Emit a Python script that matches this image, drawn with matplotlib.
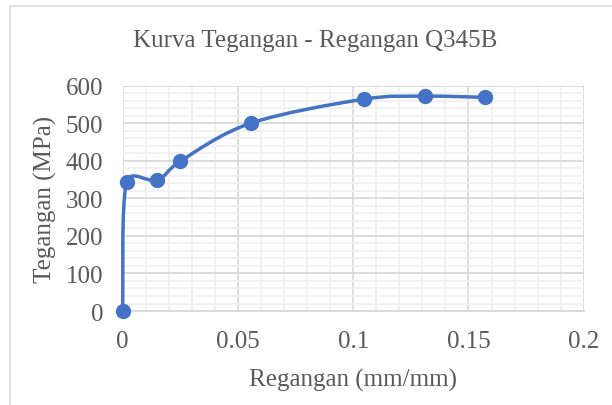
import matplotlib
import numpy as np

matplotlib.use("Agg")
import matplotlib.pyplot as plt
from matplotlib.path import Path
from matplotlib.patches import PathPatch, Rectangle
from matplotlib.ticker import MultipleLocator

# stress-strain test points, Q345B
regangan = [0.0, 0.0017, 0.015, 0.025, 0.0555, 0.1045, 0.131, 0.157]
tegangan = [0.0, 343, 348, 399, 500, 564, 572, 569]

BLUE = "#4472C4"
TEXT = "#595959"
plt.rcParams["font.family"] = ["Liberation Serif", "DejaVu Serif"]


def smooth_path(xs, ys, sx, sy):
    # bezier through the points, tangents limited like Excel's smoothed line;
    # distances measured in screen units (sx, sy = pixels per data unit)
    pts = np.column_stack([xs, ys]) * [sx, sy]
    n = len(pts)
    verts = [pts[0]]
    codes = [Path.MOVETO]

    def factor(a, b, seg):
        d = np.hypot(*(b - a))
        if d == 0 or d / 6.0 < seg / 2.0:
            return 1.0 / 6.0
        return seg / (2.0 * d)

    for i in range(n - 1):
        p0 = pts[max(i - 1, 0)]
        p1 = pts[i]
        p2 = pts[i + 1]
        p3 = pts[min(i + 2, n - 1)]
        seg = np.hypot(*(p2 - p1))
        c1 = p1 + factor(p0, p2, seg) * (p2 - p0)
        c2 = p2 - factor(p1, p3, seg) * (p3 - p1)
        verts += [c1, c2, p2]
        codes += [Path.CURVE4] * 3
    verts = np.array(verts) / [sx, sy]
    return Path(verts, codes)


fig = plt.figure(figsize=(6.12, 4.06), dpi=100)
ax = fig.add_axes([0.2005, 0.2315, 0.7533, 0.555])

# outer chart frame
fig.patches.append(Rectangle((10 / 612, -0.1), 1.2, 1 - 7 / 406 + 0.1,
                             transform=fig.transFigure, fill=False,
                             edgecolor="#D9D9D9", lw=1.2))

ax.set_xlim(0, 0.2)
ax.set_ylim(0, 600)
ax.xaxis.set_major_locator(MultipleLocator(0.05))
ax.xaxis.set_minor_locator(MultipleLocator(0.01))
ax.yaxis.set_major_locator(MultipleLocator(100))
ax.yaxis.set_minor_locator(MultipleLocator(20))
ax.grid(which="minor", color="#F0F0F0", lw=1.3)
ax.grid(which="major", color="#D9D9D9", lw=1.3)
ax.set_axisbelow(True)
for s in ["left", "top", "right"]:
    ax.spines[s].set_visible(False)
ax.spines["bottom"].set_color("#D9D9D9")
ax.spines["bottom"].set_linewidth(1.3)
ax.tick_params(which="both", length=0, labelsize=18, colors=TEXT)
ax.tick_params(axis="y", pad=14)
ax.tick_params(axis="x", pad=14)
ax.set_xticks([0, 0.05, 0.1, 0.15, 0.2])
ax.set_xticklabels(["0", "0.05", "0.1", "0.15", "0.2"])

sx = 461 / 0.2
sy = 225.3 / 600
ax.add_patch(PathPatch(smooth_path(regangan, tegangan, sx, sy), facecolor="none",
                       edgecolor=BLUE, lw=2.5, zorder=3, clip_on=False))
ax.plot(regangan, tegangan, "o", color=BLUE, ms=10, zorder=4, clip_on=False)

ax.set_xlabel("Regangan (mm/mm)", fontsize=18, color=TEXT, va="center")
ax.set_ylabel("Tegangan (MPa)", fontsize=18, color=TEXT, va="center")
ax.xaxis.set_label_coords(0.5, -0.302)
ax.yaxis.set_label_coords(-0.168, 0.5)
fig.text(0.515, 0.899, "Kurva Tegangan - Regangan Q345B", fontsize=18,
         color=TEXT, ha="center", va="center")

plt.savefig("out.png", dpi=100)
